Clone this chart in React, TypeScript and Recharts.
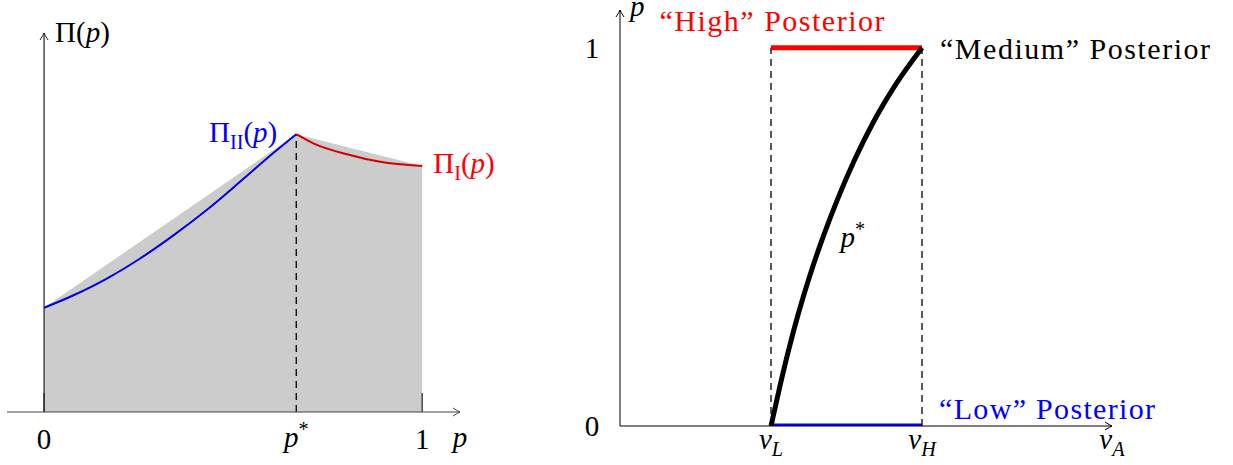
import React from 'react';
import { ComposedChart, Line, Area, XAxis, YAxis, ReferenceLine, ReferenceDot } from 'recharts';

const SERIF = "'Liberation Serif', serif";
const FS = 29;

// ---------- Left panel data ----------
const P_STAR = 0.667;
const LEFT_X_DOMAIN = [-0.098, 1.1];
const LEFT_Y_DOMAIN = [0, 1];
const hullData = [
  { p: 0, hull: 0.275 },
  { p: 0.667, hull: 0.733 },
  { p: 1, hull: 0.649 },
];
const piIIData = [
  { p: 0, val: 0.275 },
  { p: 0.078, val: 0.308 },
  { p: 0.166, val: 0.352 },
  { p: 0.254, val: 0.405 },
  { p: 0.342, val: 0.466 },
  { p: 0.43, val: 0.533 },
  { p: 0.519, val: 0.608 },
  { p: 0.607, val: 0.684 },
  { p: 0.667, val: 0.733 },
];
const piIData = [
  { p: 0.667, val: 0.733 },
  { p: 0.712, val: 0.709 },
  { p: 0.801, val: 0.68 },
  { p: 0.889, val: 0.66 },
  { p: 1, val: 0.649 },
];
const LEFT_TICKS = [0, P_STAR, 1, 1.1];
const LEFT_TICK_LABELS = ['0', 'p*', '1', 'p'];

// ---------- Right panel data ----------
const V_L = 1;
const V_H = 2;
const RIGHT_X_DOMAIN = [0, 3.258];
const RIGHT_Y_DOMAIN = [0, 1.1];
const highData = [
  { v: 1, p: 1 },
  { v: 2, p: 1 },
];
const lowData = [
  { v: 1, p: 0 },
  { v: 2, p: 0 },
];
const pStarCurve = [
  { v: 1, p: 0 },
  { v: 1.056, p: 0.1 },
  { v: 1.116, p: 0.2 },
  { v: 1.183, p: 0.3 },
  { v: 1.259, p: 0.4 },
  { v: 1.345, p: 0.5 },
  { v: 1.441, p: 0.6 },
  { v: 1.549, p: 0.7 },
  { v: 1.673, p: 0.8 },
  { v: 1.821, p: 0.9 },
  { v: 2, p: 1 },
];
const RIGHT_X_TICKS = [1, 2, 3.258];
const RIGHT_X_TICK_LABELS = ['v_L', 'v_H', 'v_A'];
const RIGHT_Y_TICKS = [0, 1];
const RIGHT_Y_TICK_LABELS = ['0', '1'];

// force the serif face even if a stylesheet tries to override it
const forceSerif = (el: any) => {
  if (el && el.style) el.style.setProperty('font-family', SERIF, 'important');
};

// ---------- math-ish text rendering ----------
type Seg = { t: string; i?: boolean; sub?: boolean; sup?: boolean };

function parseLabel(label: string): Seg[] {
  if (label === 'p*') return [{ t: 'p', i: true }, { t: '*', sup: true }];
  if (label === 'p') return [{ t: 'p', i: true }];
  if (label.startsWith('v_')) return [{ t: 'v', i: true }, { t: label.slice(2), sub: true, i: true }];
  if (label.startsWith('Π')) {
    const m = label.match(/^Π(?:_(\w+))?\(p\)$/);
    const segs: Seg[] = [{ t: 'Π' }];
    if (m && m[1]) segs.push({ t: m[1], sub: true });
    segs.push({ t: '(' }, { t: 'p', i: true }, { t: ')' });
    return segs;
  }
  return [{ t: label }];
}

function MathText({ x, y, label, anchor = 'middle', fill = '#000', size = FS }: any) {
  const segs = parseLabel(label);
  let shift = 0;
  const spans = segs.map((s, k) => {
    let target = 0;
    let fs = size;
    if (s.sub) {
      target = size * 0.24;
      fs = size * 0.7;
    } else if (s.sup) {
      target = -size * 0.38;
      fs = size * 0.7;
    }
    const dy = target - shift;
    shift = target;
    return (
      <tspan key={k} ref={forceSerif} dy={dy} style={{ fontSize: fs, fontStyle: s.i ? 'italic' : 'normal' }}>
        {s.t}
      </tspan>
    );
  });
  return (
    <text ref={forceSerif} x={x} y={y} textAnchor={anchor} fill={fill} style={{ fontSize: size }}>
      {spans}
    </text>
  );
}

function ArrowHead({ cx, cy, dir, color = '#000' }: any) {
  const L = 7;
  const W = 4;
  const d =
    dir === 'right'
      ? `M${cx - L},${cy - W} Q${cx - 2},${cy - 0.8} ${cx},${cy} Q${cx - 2},${cy + 0.8} ${cx - L},${cy + W}`
      : `M${cx - W},${cy + L} Q${cx - 0.8},${cy + 2} ${cx},${cy} Q${cx + 0.8},${cy + 2} ${cx + W},${cy + L}`;
  return <path d={d} fill="none" stroke={color} strokeWidth={1} />;
}

const textShape =
  (label: string, dx: number, dy: number, anchor: string, fill = '#000', size = FS) =>
  (props: any) =>
    <MathText x={props.cx + dx} y={props.cy + dy} label={label} anchor={anchor} fill={fill} size={size} />;

const plainTextShape =
  (label: string, dx: number, dy: number, anchor: string, fill: string, len: number) =>
  (props: any) =>
    (
      <text
        ref={forceSerif}
        x={props.cx + dx}
        y={props.cy + dy}
        textAnchor={anchor}
        fill={fill}
        style={{ fontSize: 30 }}
        textLength={len}
        lengthAdjust="spacing"
      >
        {label}
      </text>
    );

const leftTick = (props: any) => {
  const idx = LEFT_TICKS.indexOf(props.payload.value);
  const label = LEFT_TICK_LABELS[idx] ?? String(props.payload.value);
  const dy = label.startsWith('p') ? 35 : 37;
  return <MathText x={props.x} y={props.y + dy} label={label} anchor="middle" />;
};

const rightXTick = (props: any) => {
  const idx = RIGHT_X_TICKS.indexOf(props.payload.value);
  const label = RIGHT_X_TICK_LABELS[idx] ?? '';
  return <MathText x={props.x} y={props.y + 23} label={label} anchor="middle" />;
};

const rightYTick = (props: any) => {
  const idx = RIGHT_Y_TICKS.indexOf(props.payload.value);
  const label = RIGHT_Y_TICK_LABELS[idx] ?? '';
  return <MathText x={props.x - 28} y={props.y + 10} label={label} anchor="middle" />;
};

function LeftChart() {
  return (
    <ComposedChart width={560} height={465} margin={{ top: 33, left: 7, right: 100, bottom: 0 }}>
      <XAxis
        dataKey="p"
        type="number"
        domain={LEFT_X_DOMAIN}
        allowDataOverflow
        ticks={LEFT_TICKS}
        interval={0}
        tickLine={false}
        tickSize={0}
        tickMargin={0}
        height={53}
        axisLine={{ stroke: '#444', strokeWidth: 1 }}
        tick={leftTick}
      />
      <YAxis type="number" domain={LEFT_Y_DOMAIN} allowDataOverflow hide />
      <Area
        data={hullData}
        dataKey="hull"
        type="linear"
        fill="#cccccc"
        fillOpacity={1}
        stroke="none"
        isAnimationActive={false}
        dot={false}
        activeDot={false}
      />
      <ReferenceLine segment={[{ x: 0, y: 0 }, { x: 0, y: 1 }]} stroke="#222" strokeWidth={1.2} ifOverflow="visible" />
      <ReferenceLine segment={[{ x: 0, y: 0 }, { x: 0, y: 0.05 }]} stroke="#222" strokeWidth={1.2} />
      <ReferenceLine segment={[{ x: 1, y: 0 }, { x: 1, y: 0.05 }]} stroke="#222" strokeWidth={1.2} />
      <ReferenceLine
        segment={[{ x: P_STAR, y: 0 }, { x: P_STAR, y: 0.733 }]}
        stroke="#000"
        strokeWidth={1.3}
        strokeDasharray="7 5"
      />
      <Line
        data={piIIData}
        dataKey="val"
        type="monotone"
        stroke="#0000dd"
        strokeWidth={2}
        dot={false}
        activeDot={false}
        isAnimationActive={false}
      />
      <Line
        data={piIData}
        dataKey="val"
        type="monotone"
        stroke="#d40000"
        strokeWidth={2}
        dot={false}
        activeDot={false}
        isAnimationActive={false}
      />
      <ReferenceDot x={LEFT_X_DOMAIN[1]} y={0} r={0} ifOverflow="visible" shape={(p: any) => <ArrowHead cx={p.cx} cy={p.cy} dir="right" color="#444" />} />
      <ReferenceDot x={0} y={1} r={0} ifOverflow="visible" shape={(p: any) => <ArrowHead cx={p.cx} cy={p.cy} dir="up" color="#222" />} />
      <ReferenceDot x={0} y={1} r={0} ifOverflow="visible" shape={textShape('Π(p)', 11, 9, 'start')} />
      <ReferenceDot x={P_STAR} y={0.733} r={0} ifOverflow="visible" shape={textShape('Π_II(p)', -19, 8, 'end', '#0000ff')} />
      <ReferenceDot x={1} y={0.649} r={0} ifOverflow="visible" shape={textShape('Π_I(p)', 11, 7, 'start', '#ff0000')} />
    </ComposedChart>
  );
}

function RightChart() {
  return (
    <ComposedChart width={673} height={465} margin={{ top: 10, left: 0, right: 121, bottom: 0 }}>
      <XAxis
        dataKey="v"
        type="number"
        domain={RIGHT_X_DOMAIN}
        allowDataOverflow
        ticks={RIGHT_X_TICKS}
        interval={0}
        tickLine={false}
        tickSize={0}
        tickMargin={0}
        height={39}
        axisLine={{ stroke: '#000', strokeWidth: 1 }}
        tick={rightXTick}
      />
      <YAxis
        type="number"
        domain={RIGHT_Y_DOMAIN}
        allowDataOverflow
        ticks={RIGHT_Y_TICKS}
        interval={0}
        tickLine={false}
        tickSize={0}
        tickMargin={0}
        width={60}
        axisLine={{ stroke: '#000', strokeWidth: 1 }}
        tick={rightYTick}
      />
      <ReferenceLine segment={[{ x: V_L, y: 0 }, { x: V_L, y: 1 }]} stroke="#000" strokeWidth={1.3} strokeDasharray="7 5" />
      <ReferenceLine segment={[{ x: V_H, y: 0 }, { x: V_H, y: 1 }]} stroke="#000" strokeWidth={1.3} strokeDasharray="7 5" />
      <Line data={highData} dataKey="p" type="linear" stroke="#ff0000" strokeWidth={5} dot={false} activeDot={false} isAnimationActive={false} />
      <Line data={lowData} dataKey="p" type="linear" stroke="#0000ff" strokeWidth={5} dot={false} activeDot={false} isAnimationActive={false} />
      <Line data={pStarCurve} dataKey="p" type="monotone" stroke="#000" strokeWidth={5} dot={false} activeDot={false} isAnimationActive={false} />
      <ReferenceDot x={RIGHT_X_DOMAIN[1]} y={0} r={0} ifOverflow="visible" shape={(p: any) => <ArrowHead cx={p.cx} cy={p.cy} dir="right" />} />
      <ReferenceDot x={0} y={RIGHT_Y_DOMAIN[1]} r={0} ifOverflow="visible" shape={(p: any) => <ArrowHead cx={p.cx} cy={p.cy} dir="up" />} />
      <ReferenceDot x={0} y={RIGHT_Y_DOMAIN[1]} r={0} ifOverflow="visible" shape={textShape('p', 10, 6, 'start')} />
      <ReferenceDot x={1.5} y={0.5} r={0} ifOverflow="visible" shape={textShape('p*', -6, 10, 'start')} />
      <ReferenceDot x={V_L} y={1} r={0} ifOverflow="visible" shape={plainTextShape('“High” Posterior', 1, -17, 'middle', '#ff0000', 225)} />
      <ReferenceDot x={V_H} y={1} r={0} ifOverflow="visible" shape={plainTextShape('“Medium” Posterior', 18, 11, 'start', '#000', 270)} />
      <ReferenceDot x={V_H} y={0} r={0} ifOverflow="visible" shape={plainTextShape('“Low” Posterior', 17, -7, 'start', '#0000ff', 216)} />
    </ComposedChart>
  );
}

export default function App() {
  return (
    <div style={{ position: 'fixed', left: 0, top: 0, width: 1233, height: 465, background: '#fff' }}>
      <div style={{ position: 'absolute', left: 0, top: 0 }}>
        <LeftChart />
      </div>
      <div style={{ position: 'absolute', left: 560, top: 0 }}>
        <RightChart />
      </div>
    </div>
  );
}
